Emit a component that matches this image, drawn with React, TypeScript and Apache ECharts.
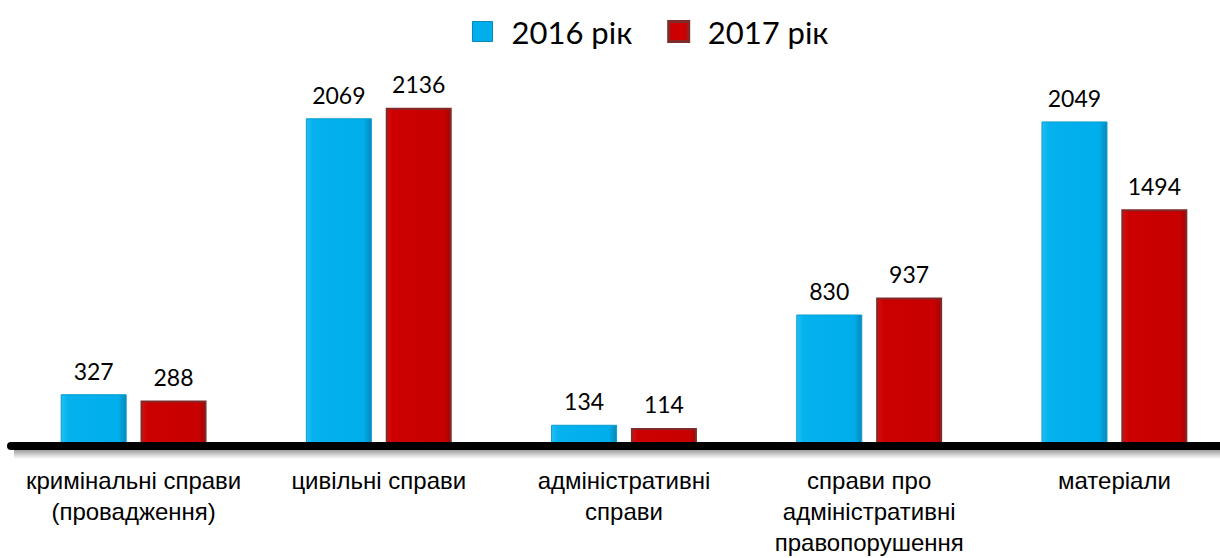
import React, { useEffect, useRef } from "react";
import * as echarts from "echarts";

const categories = [
  "кримінальні справи\n(провадження)",
  "цивільні справи",
  "адміністративні\nсправи",
  "справи про\nадміністративні\nправопорушення",
  "матеріали",
];
const seriesNames = ["2016 рік", "2017 рік"];
const values2016 = [327, 2069, 134, 830, 2049];
const values2017 = [288, 2136, 114, 937, 1494];

export default function App() {
  const ref = useRef<HTMLDivElement>(null);
  useEffect(() => {
    if (!ref.current) return;
    const chart = echarts.init(ref.current, undefined, { renderer: "svg" });
    const blue = new echarts.graphic.LinearGradient(0, 0, 1, 0, [
      { offset: 0, color: "#22c0f4" },
      { offset: 0.1, color: "#05b2ee" },
      { offset: 0.88, color: "#00aeec" },
      { offset: 1, color: "#0a88b8" },
    ]);
    const red = new echarts.graphic.LinearGradient(0, 0, 1, 0, [
      { offset: 0, color: "#d81010" },
      { offset: 0.1, color: "#cc0000" },
      { offset: 0.9, color: "#c80000" },
      { offset: 1, color: "#a00606" },
    ]);
    const valueLabel = {
      show: true,
      position: "top",
      distance: 12,
      fontSize: 23,
      color: "#000",
      fontFamily: "Lato, sans-serif",
    };
    chart.setOption({
      animation: false,
      backgroundColor: "#ffffff",
      legend: {
        top: 11,
        left: 467,
        icon: "rect",
        itemWidth: 20,
        itemHeight: 20,
        itemGap: 35,
        textStyle: { fontSize: 31, fontFamily: "Lato, sans-serif", color: "#000", padding: [0, 0, 0, 14] },
        data: [
          { name: seriesNames[0], itemStyle: { color: "#00aeec", borderColor: "#0a88b8", borderWidth: 1 } },
          { name: seriesNames[1], itemStyle: { color: "#cc0000", borderColor: "#7f2b2b", borderWidth: 3 } },
        ],
      },
      graphic: [
        {
          type: "rect",
          shape: { x: 14, y: 450, width: 1210, height: 9 },
          z: 0,
          style: {
            fill: new echarts.graphic.LinearGradient(0, 0, 0, 1, [
              { offset: 0, color: "rgba(0,0,0,0.38)" },
              { offset: 1, color: "rgba(0,0,0,0)" },
            ]),
          },
        },
      ],
      grid: {
        left: 11,
        width: 1226,
        top: 50,
        bottom: 112,
        containLabel: false,
        outerBoundsMode: "none",
      },
      xAxis: {
        type: "category",
        data: categories,
        z: 10,
        axisLine: { lineStyle: { color: "#000", width: 8 } },
        axisTick: { show: false },
        axisLabel: {
          margin: 19,
          fontSize: 24,
          lineHeight: 31,
          color: "#000",
          fontFamily: "'Liberation Sans', Arial, sans-serif",
          interval: 0,
        },
      },
      yAxis: { type: "value", min: 0, max: 2500, show: false, splitLine: { show: false } },
      series: [
        {
          name: seriesNames[0],
          type: "bar",
          data: values2016,
          barWidth: 66,
          barGap: "21%",
          itemStyle: { color: blue, borderColor: "#0a9ccf", borderWidth: 1 },
          label: valueLabel,
        },
        {
          name: seriesNames[1],
          type: "bar",
          data: values2017,
          barWidth: 66,
          itemStyle: { color: red, borderColor: "#7f2b2b", borderWidth: 2 },
          label: valueLabel,
        },
      ],
    });
    return () => chart.dispose();
  }, []);
  return (
    <div
      ref={ref}
      style={{ position: "absolute", left: 0, top: 0, width: 1220, height: 558, background: "#fff" }}
    />
  );
}
